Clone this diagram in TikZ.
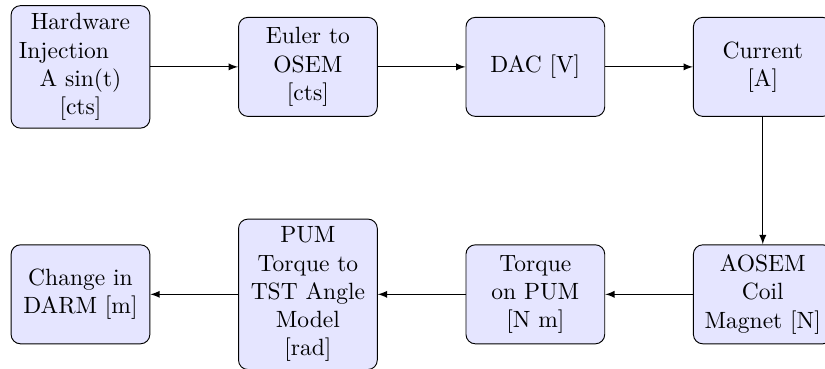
\documentclass[tikz,border=0pt]{standalone}
\usepackage{tikz}
\usetikzlibrary{arrows.meta,positioning}

\begin{document}
\begin{tikzpicture}[
    block/.style={draw, rounded corners, fill=blue!10, text width=1.84cm, minimum height=1.48cm, align=center},
    arr/.style={-latex}
]
\useasboundingbox (-1.203,-4.514) rectangle (11.13,1.0);
\node[block] (inj) at (0,0) {Hardware\\\makebox[\linewidth][l]{Injection}\\A sin(t)\\{[cts]}};
\node[block] (euler) at (3.4,0) {Euler to\\OSEM\\{[cts]}};
\node[block] (dac) at (6.8,0) {DAC [V]};
\node[block] (cur) at (10.2,0) {Current\\{[A]}};
\node[block] (aosem) at (10.2,-3.4) {AOSEM\\Coil\\Magnet [N]};
\node[block] (torque) at (6.8,-3.4) {Torque\\on PUM\\{[N m]}};
\node[block] (pum) at (3.4,-3.4) {PUM\\Torque to\\TST Angle\\Model\\{[rad]}};
\node[block] (darm) at (0,-3.4) {Change in\\DARM [m]};

\draw[arr] (inj) -- (euler);
\draw[arr] (euler) -- (dac);
\draw[arr] (dac) -- (cur);
\draw[arr] (cur) -- (aosem);
\draw[arr] (aosem) -- (torque);
\draw[arr] (torque) -- (pum);
\draw[arr] (pum) -- (darm);
\end{tikzpicture}
\end{document}
